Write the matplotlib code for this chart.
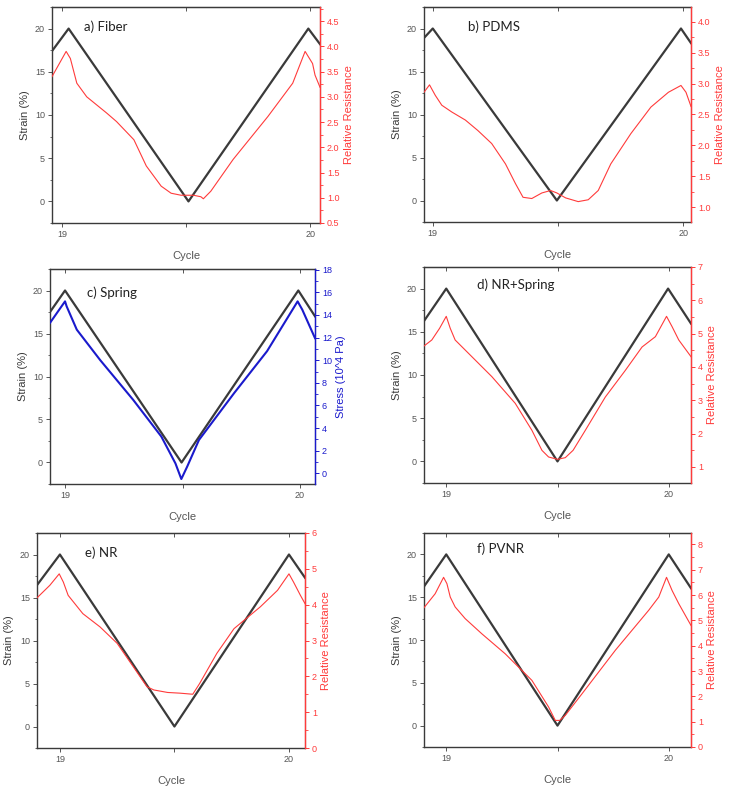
import numpy as np
import matplotlib
matplotlib.use("Agg")
from matplotlib import pyplot as plt
from matplotlib.ticker import MultipleLocator, FixedLocator

plt.rcParams['font.family'] = ['Liberation Sans', 'DejaVu Sans']

# ---- data (cycle, value) ----
# a) Fiber
a_strain_x = [18.96, 19.027, 19.51, 19.993, 20.04]
a_strain_y = [17.4, 20, 0, 20, 18.2]
a_res_x = [18.96, 19.017, 19.034, 19.06, 19.10, 19.18, 19.22, 19.29, 19.34, 19.40, 19.44, 19.48,
           19.53, 19.56, 19.57, 19.60, 19.69, 19.83, 19.93, 19.98, 20.01, 20.02, 20.04]
a_res_y = [3.40, 3.90, 3.76, 3.27, 3.00, 2.68, 2.51, 2.15, 1.63, 1.23, 1.09, 1.05,
           1.05, 1.02, 0.98, 1.13, 1.76, 2.61, 3.27, 3.90, 3.66, 3.43, 3.19]

# b) PDMS
b_strain_x = [18.965, 19.0, 19.495, 19.99, 20.03]
b_strain_y = [18.9, 20, 0, 20, 18.3]
b_res_x = [18.965, 18.987, 19.01, 19.036, 19.076, 19.13, 19.18, 19.235, 19.29, 19.33, 19.36, 19.395,
           19.435, 19.47, 19.495, 19.53, 19.58, 19.62, 19.66, 19.71, 19.79, 19.87, 19.94, 19.99,
           20.01, 20.03]
b_res_y = [2.86, 2.98, 2.81, 2.65, 2.54, 2.41, 2.24, 2.03, 1.70, 1.38, 1.16, 1.14,
           1.23, 1.27, 1.23, 1.15, 1.09, 1.12, 1.27, 1.70, 2.19, 2.62, 2.86, 2.97,
           2.86, 2.63]

# c) Spring
c_strain_x = [18.936, 19.0, 19.496, 19.993, 20.064]
c_strain_y = [17.5, 20, 0, 20, 17.0]
c_stress_x = [18.936, 19.0, 19.007, 19.05, 19.15, 19.29, 19.41, 19.47, 19.495, 19.52, 19.57,
              19.72, 19.86, 19.99, 20.01, 20.064]
c_stress_y = [13.3, 15.2, 14.75, 12.7, 10.0, 6.5, 3.25, 0.88, -0.5, 0.6, 2.95,
              7.1, 10.8, 15.2, 14.46, 11.95]

# d) NR+Spring
d_strain_x = [18.90, 19.0, 19.5, 19.997, 20.10]
d_strain_y = [16.25, 20, 0, 20, 15.95]
d_res_x = [18.90, 18.935, 18.97, 19.0, 19.018, 19.04, 19.07, 19.115, 19.205, 19.31, 19.385, 19.43,
           19.46, 19.5, 19.535, 19.57, 19.625, 19.715, 19.805, 19.88, 19.94, 19.99, 20.015,
           20.045, 20.10]
d_res_y = [4.63, 4.81, 5.16, 5.52, 5.16, 4.81, 4.61, 4.31, 3.71, 2.91, 2.10, 1.50,
           1.30, 1.23, 1.28, 1.50, 2.10, 3.10, 3.90, 4.60, 4.91, 5.52, 5.21,
           4.81, 4.31]

# e) NR
e_strain_x = [18.90, 19.0, 19.5, 20.0, 20.07]
e_strain_y = [16.44, 20, 0, 20, 17.3]
e_res_x = [18.90, 18.956, 18.997, 19.015, 19.036, 19.10, 19.175, 19.25, 19.32, 19.38, 19.41, 19.47,
           19.525, 19.58, 19.61, 19.685, 19.76, 19.875, 19.95, 20.0, 20.02, 20.05, 20.07]
e_res_y = [4.19, 4.54, 4.86, 4.63, 4.26, 3.75, 3.38, 2.92, 2.27, 1.71, 1.62, 1.55,
           1.53, 1.50, 1.80, 2.64, 3.33, 3.94, 4.40, 4.86, 4.63, 4.26, 4.03]

# f) PVNR
f_strain_x = [18.90, 19.0, 19.5, 20.0, 20.10]
f_strain_y = [16.25, 20, 0, 20, 16.05]
f_res_x = [18.90, 18.95, 18.988, 19.003, 19.018, 19.04, 19.085, 19.16, 19.265, 19.385, 19.46, 19.49,
           19.51, 19.535, 19.61, 19.76, 19.91, 19.955, 19.99, 20.015, 20.045, 20.10]
f_res_y = [5.50, 6.05, 6.70, 6.45, 5.92, 5.53, 5.07, 4.47, 3.68, 2.63, 1.58, 1.05,
           1.05, 1.25, 2.10, 3.82, 5.40, 5.92, 6.70, 6.18, 5.66, 4.80]

RED = '#ff3b3b'
BLUE = '#1a1acc'
DARK = '#3a3a3a'
GRAY = '#555555'

fig = plt.figure(figsize=(7.31, 7.88), dpi=100)
W, H = 731.0, 788.0

def make_panel(box, title, tpos, sx, sy, rx, ry, xlim, rlim, rticks, rminor, rlabel, rcolor, rfmt, rlw):
    l, r, t, b = box
    ax = fig.add_axes([l / W, 1 - b / H, (r - l) / W, (b - t) / H])
    ax.plot(sx, sy, color=DARK, lw=1.6)
    ax.set_xlim(xlim)
    ax.set_ylim(-2.5, 22.5)
    ax.xaxis.set_major_locator(FixedLocator([19, 19.5, 20]))
    ax.set_xticklabels(['19', '', '20'])
    ax.yaxis.set_major_locator(FixedLocator([0, 5, 10, 15, 20]))
    ax.yaxis.set_minor_locator(MultipleLocator(2.5))
    ax.tick_params(axis='both', which='major', labelsize=6.5, colors=GRAY, length=3, width=0.7, pad=2)
    ax.tick_params(axis='y', which='minor', length=1.8, width=0.6, colors=GRAY)
    ax.tick_params(axis='x', direction='out')
    top = ax.secondary_xaxis('top')
    top.xaxis.set_major_locator(FixedLocator([19, 19.5, 20]))
    top.tick_params(direction='in', length=3, width=0.7, labeltop=False, colors=GRAY)
    for s in ['left', 'bottom', 'top']:
        ax.spines[s].set_color(DARK)
        ax.spines[s].set_linewidth(1.0)
    top.spines['top'].set_color(DARK)
    ax.set_ylabel('Strain (%)', fontsize=8, color=DARK, labelpad=4)
    ax.set_xlabel('Cycle', fontsize=8, color=GRAY, labelpad=9)
    ax.text(tpos[0], tpos[1], title, transform=ax.transAxes, fontsize=9.5,
            family=['Lato', 'DejaVu Sans'], color='#222222', va='center', ha='left')

    ax2 = ax.twinx()
    ax2.plot(rx, ry, color=rcolor, lw=rlw)
    ax2.set_ylim(rlim)
    ax2.yaxis.set_major_locator(FixedLocator(rticks))
    ax2.yaxis.set_minor_locator(MultipleLocator(rminor))
    ax2.set_yticklabels([rfmt % v for v in rticks])
    ax2.tick_params(axis='y', which='major', labelsize=6.5, colors=rcolor, length=3, width=0.7, pad=2)
    ax2.tick_params(axis='y', which='minor', length=1.8, width=0.6, colors=rcolor)
    ax2.spines['right'].set_color(rcolor)
    ax2.spines['right'].set_linewidth(1.0)
    ax2.spines['left'].set_visible(False)
    ax2.spines['top'].set_visible(False)
    ax2.spines['bottom'].set_visible(False)
    ax2.set_ylabel(rlabel, fontsize=8, color=rcolor, labelpad=3)
    return ax, ax2

make_panel((52, 320, 7, 223), 'a) Fiber', (0.12, 0.91), a_strain_x, a_strain_y, a_res_x, a_res_y,
           (18.96, 20.04), (0.5, 4.78), [0.5, 1.0, 1.5, 2.0, 2.5, 3.0, 3.5, 4.0, 4.5], 0.25,
           'Relative Resistance', RED, '%.1f', 0.8)
make_panel((424, 691, 7, 222), 'b) PDMS', (0.165, 0.91), b_strain_x, b_strain_y, b_res_x, b_res_y,
           (18.965, 20.03), (0.76, 4.24), [1.0, 1.5, 2.0, 2.5, 3.0, 3.5, 4.0], 0.25,
           'Relative Resistance', RED, '%.1f', 0.8)
make_panel((50, 315, 269, 484), 'c) Spring', (0.14, 0.89), c_strain_x, c_strain_y, c_stress_x, c_stress_y,
           (18.936, 20.064), (-0.94, 18.06), list(range(0, 19, 2)), 1,
           'Stress (10^4 Pa)', BLUE, '%d', 1.5)
make_panel((424, 691, 267, 483), 'd) NR+Spring', (0.2, 0.917), d_strain_x, d_strain_y, d_res_x, d_res_y,
           (18.90, 20.10), (0.52, 7.0), [1, 2, 3, 4, 5, 6, 7], 0.5,
           'Relative Resistance', RED, '%d', 0.8)
make_panel((37, 305, 533, 748), 'e) NR', (0.18, 0.907), e_strain_x, e_strain_y, e_res_x, e_res_y,
           (18.90, 20.07), (0.0, 6.0), [0, 1, 2, 3, 4, 5, 6], 0.5,
           'Relative Resistance', RED, '%d', 0.8)
make_panel((424, 691, 533, 747), 'f) PVNR', (0.2, 0.926), f_strain_x, f_strain_y, f_res_x, f_res_y,
           (18.90, 20.10), (0.0, 8.45), [0, 1, 2, 3, 4, 5, 6, 7, 8], 0.5,
           'Relative Resistance', RED, '%d', 0.8)

fig.savefig('out.png', dpi=100, facecolor='white')
